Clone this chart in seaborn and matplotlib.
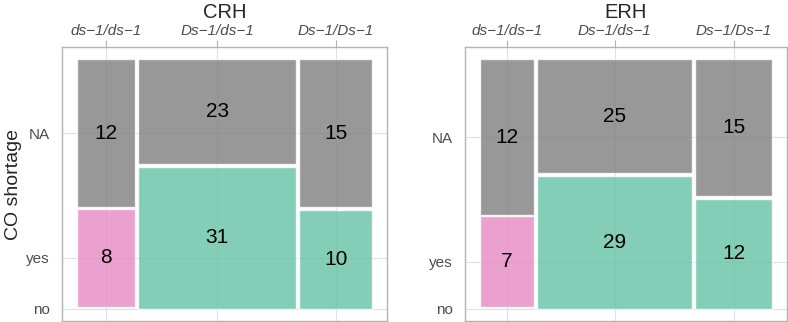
import numpy as np
import pandas as pd
import matplotlib
matplotlib.use("Agg")
import matplotlib.pyplot as plt
import seaborn as sns

genotypes = ["ds\u22121/ds\u22121", "Ds\u22121/ds\u22121", "Ds\u22121/Ds\u22121"]
levels = ["no", "yes", "NA"]
crh_no = [0, 31, 10]
crh_yes = [8, 0, 0]
crh_na = [12, 23, 15]
erh_no = [0, 29, 12]
erh_yes = [7, 0, 0]
erh_na = [12, 25, 15]

level_colors = {"no": "#66C2A5", "yes": "#E78AC3", "NA": "#7F7F7F"}

sns.set_theme(style="whitegrid")
plt.rcParams["font.family"] = ["Liberation Sans", "DejaVu Sans"]


def mosaic_rects(no, yes, na, xgap=0.01, ygap=0.006):
    df = pd.DataFrame({"genotype": genotypes, "no": no, "yes": yes, "NA": na})
    df["total"] = df[levels].sum(axis=1)
    usable = 1 - xgap * (len(df) - 1)
    df["width"] = df["total"] / df["total"].sum() * usable
    df["x"] = df["width"].cumsum() - df["width"] + xgap * np.arange(len(df))
    rows = []
    for _, r in df.iterrows():
        y = 0.0
        h_usable = 1 - ygap * (len(levels) - 1)
        for i, lev in enumerate(levels):
            h = r[lev] / r["total"] * h_usable
            rows.append({"genotype": r["genotype"], "level": lev, "count": r[lev],
                         "x": r["x"], "w": r["width"], "y": y, "h": h})
            y += h + ygap
    return pd.DataFrame(rows)


def draw_panel(ax, rects, title, ylabel=None):
    for _, r in rects.iterrows():
        if r["count"] == 0:
            continue
        ax.bar(r["x"], r["h"], width=r["w"], bottom=r["y"], align="edge",
               color=level_colors[r["level"]], alpha=0.8, edgecolor="white",
               linewidth=1.0, zorder=2)
        ax.text(r["x"] + r["w"] / 2, r["y"] + r["h"] / 2, str(int(r["count"])),
                ha="center", va="center", fontsize=15, color="black", zorder=3)

    # x ticks at column centres, y ticks at first column cell centres
    cols = rects.drop_duplicates("genotype")
    ax.set_xticks(cols["x"] + cols["w"] / 2)
    ax.set_xticklabels(cols["genotype"], fontstyle="italic")
    first = rects[rects["genotype"] == genotypes[0]]
    ax.set_yticks(first["y"] + first["h"] / 2)
    ax.set_yticklabels(levels)

    ax.set_xlim(-0.05, 1.05)
    ax.set_ylim(-0.05, 1.05)
    ax.xaxis.tick_top()
    ax.tick_params(axis="both", which="major", width=0.8, color="#B3B3B3",
                   labelsize=11, labelcolor="#4D4D4D")
    ax.tick_params(axis="x", length=5, pad=1.5)
    ax.tick_params(axis="y", length=3.6, pad=5)
    ax.grid(True, color="#E0E0E0", linewidth=0.8, zorder=0)
    ax.set_axisbelow(True)
    for s in ax.spines.values():
        s.set_color("#B3B3B3")
        s.set_linewidth(1.0)
    ax.set_title(title, fontsize=14.5, pad=21)
    ax.set_xlabel("")
    if ylabel:
        ax.set_ylabel(ylabel, fontsize=14, labelpad=3)
    else:
        ax.set_ylabel("")


fig = plt.figure(figsize=(7.88, 3.22), dpi=100)
ax1 = fig.add_axes([0.0787, 0.003, 0.4124, 0.851])
ax2 = fig.add_axes([0.5901, 0.003, 0.4086, 0.851])

draw_panel(ax1, mosaic_rects(crh_no, crh_yes, crh_na), "CRH", "CO shortage")
draw_panel(ax2, mosaic_rects(erh_no, erh_yes, erh_na), "ERH")

fig.savefig("out.png", dpi=100)
